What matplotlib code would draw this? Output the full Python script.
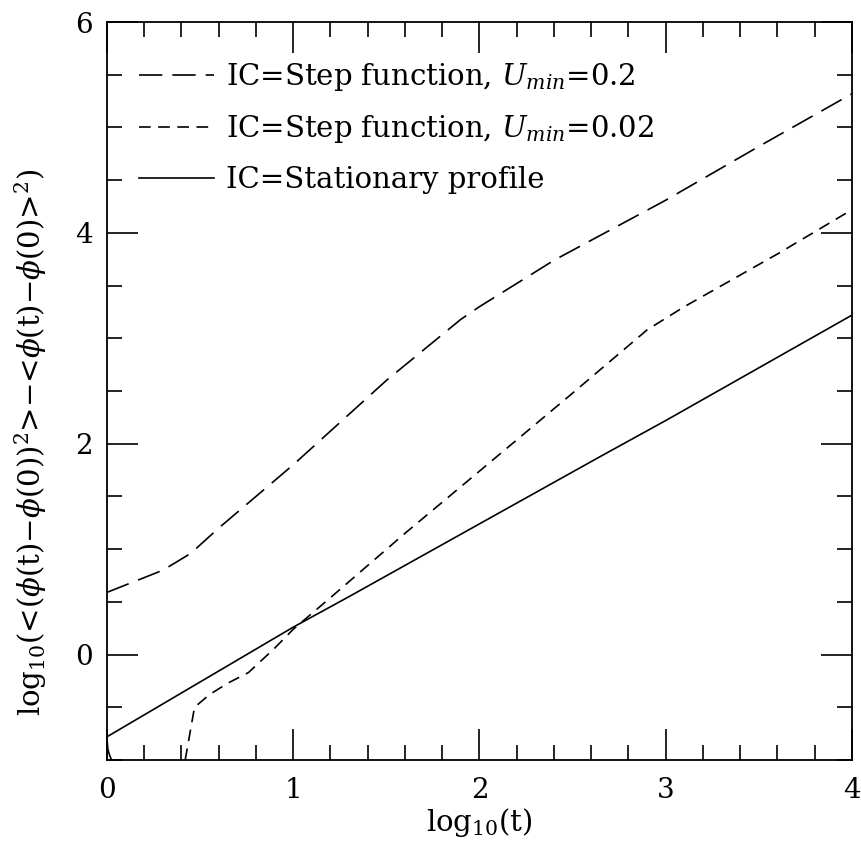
import matplotlib.pyplot as plt
from matplotlib.ticker import MultipleLocator

plt.rcParams['font.family'] = 'DejaVu Serif'
plt.rcParams['mathtext.fontset'] = 'dejavuserif'

# IC = step function, U_min = 0.2 (long dashes)
x_step02 = [0.0, 0.3, 0.45, 0.6, 0.8, 1.0, 1.2, 1.5, 1.9, 2.0, 2.4, 3.0, 3.5, 4.0]
y_step02 = [0.59, 0.80, 0.96, 1.20, 1.50, 1.80, 2.12, 2.60, 3.18, 3.30, 3.74, 4.31, 4.82, 5.32]

# IC = step function, U_min = 0.02 (short dashes)
x_step002 = [0.42, 0.47, 0.55, 0.65, 0.76, 0.9, 1.0, 1.2, 1.6, 2.0, 2.5, 2.9, 3.1, 3.6, 4.0]
y_step002 = [-1.0, -0.50, -0.38, -0.27, -0.17, 0.06, 0.24, 0.54, 1.15, 1.74, 2.48, 3.08, 3.30, 3.80, 4.22]

# IC = stationary profile (solid)
x_stat = [0.0, 0.5, 1.0, 1.3, 2.0, 2.65, 3.0, 4.0]
y_stat = [-0.78, -0.26, 0.26, 0.55, 1.24, 1.88, 2.22, 3.22]
x_stat_tail = [0.0, 0.005, 0.015, 0.025]
y_stat_tail = [-0.80, -0.90, -0.96, -1.0]

labels = ['IC=Step function, $U_{min}$=0.2',
          'IC=Step function, $U_{min}$=0.02',
          'IC=Stationary profile']

fig = plt.figure(figsize=(8.62, 8.57), dpi=100)
ax = fig.add_axes([0.1241, 0.1132, 0.8643, 0.8611])

lw = 1.2
l1, = ax.plot(x_step02, y_step02, color='black', lw=lw, dashes=(14, 6))
l2, = ax.plot(x_step002, y_step002, color='black', lw=lw, dashes=(7, 4.5))
l3, = ax.plot(x_stat, y_stat, color='black', lw=lw)
ax.plot(x_stat_tail, y_stat_tail, color='black', lw=lw)

ax.set_xlim(0, 4)
ax.set_ylim(-1, 6)
ax.xaxis.set_major_locator(MultipleLocator(1))
ax.xaxis.set_minor_locator(MultipleLocator(0.2))
ax.yaxis.set_major_locator(MultipleLocator(2))
ax.yaxis.set_minor_locator(MultipleLocator(0.5))
ax.tick_params(which='both', direction='in', top=True, right=True, labelsize=20, width=1.2)
ax.tick_params(which='major', length=22)
ax.tick_params(axis='x', which='major', pad=12)
ax.tick_params(axis='y', which='major', pad=10)
ax.tick_params(which='minor', length=11)
for s in ax.spines.values():
    s.set_linewidth(1.3)

ax.set_xlabel('log$_{10}$(t)', fontsize=21, labelpad=2)
ax.set_ylabel(r'log$_{10}$(<($\phi$(t)$-\phi$(0))$^2$>$-$<$\phi$(t)$-\phi$(0)>$^2$)',
              fontsize=21)
ax.yaxis.set_label_coords(-0.078, 0.43)

ax.legend([l1, l2, l3], labels, loc='upper left', frameon=False, fontsize=21,
          handlelength=2.6, handletextpad=0.4, labelspacing=0.7,
          borderaxespad=0.3, bbox_to_anchor=(0.015, 0.975))

fig.savefig('out.png', dpi=100)
